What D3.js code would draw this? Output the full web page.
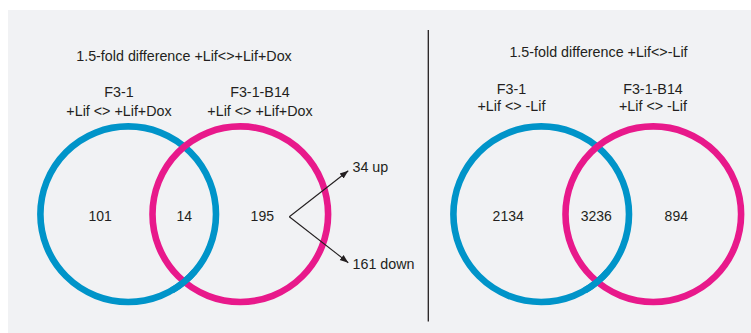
<!DOCTYPE html>
<html>
<head>
<meta charset="utf-8">
<script src="https://cdn.jsdelivr.net/npm/d3@7"></script>
<style>
  html, body { margin: 0; padding: 0; background: #ffffff; }
  svg { display: block; }
  text { font-family: "Liberation Sans", Arial, sans-serif; fill: #231f20; }
</style>
</head>
<body>
<svg id="chart" width="751" height="333"></svg>
<script>
// Comparison panels
const panelTitles = ["1.5-fold difference +Lif<>+Lif+Dox", "1.5-fold difference +Lif<>-Lif"];
const setNames = ["F3-1", "F3-1-B14"];
const setConditions = [
  ["+Lif <> +Lif+Dox", "+Lif <> +Lif+Dox"],
  ["+Lif <> -Lif", "+Lif <> -Lif"]
];
// Region counts per panel: only first set, shared, only second set
const onlyFirst = [101, 2134];
const shared = [14, 3236];
const onlySecond = [195, 894];
// Direction split of the 195 genes unique to F3-1-B14 (+Lif <> +Lif+Dox)
const splitLabels = ["up", "down"];
const splitCounts = [34, 161];
const setColors = ["#0094c9", "#e8198b"];

const labelSize = 14.3, countSize = 14;
const svg = d3.select("#chart");

// background panel
svg.append("rect").attr("x", 8).attr("y", 10).attr("width", 743).attr("height", 323)
  .attr("fill", "#f1f2f4");

// divider
svg.append("line").attr("x1", 428.3).attr("x2", 428.3).attr("y1", 30).attr("y2", 321.5)
  .attr("stroke", "#231f20").attr("stroke-width", 1.3);

// panel offset scale: panel index -> horizontal origin
const panelX = d3.scaleLinear().domain([0, 1]).range([0, 413]);
// position within a panel: 0 = first circle centre, 1 = second circle centre
const setX = d3.scaleLinear().domain([0, 1]).range([128.2, 240.3]);
const cy = 214.2, r = 87.8;

svg.append("defs").append("marker")
  .attr("id", "arrow").attr("viewBox", "0 0 10 10")
  .attr("refX", 10).attr("refY", 5)
  .attr("markerWidth", 8.5).attr("markerHeight", 8.5)
  .attr("markerUnits", "userSpaceOnUse")
  .attr("orient", "auto")
  .append("path").attr("d", "M0,1.2 L10,5 L0,8.8 Z").attr("fill", "#231f20");

panelTitles.forEach((title, p) => {
  const g = svg.append("g").attr("transform", `translate(${panelX(p)},0)`);
  const titleY = p === 0 ? 55.5 : 52;
  const nameY = p === 0 ? 92 : 88.5;
  const condY = p === 0 ? 110.5 : 106;

  g.append("text").attr("x", p === 0 ? 184 : 185.5).attr("y", titleY)
    .attr("text-anchor", "middle").attr("dominant-baseline", "central")
    .attr("font-size", labelSize).text(title);

  const labelX = p === 0 ? [119, 260] : [98.5, 240];
  setNames.forEach((name, i) => {
    g.append("text").attr("x", labelX[i]).attr("y", nameY)
      .attr("text-anchor", "middle").attr("dominant-baseline", "central")
      .attr("font-size", labelSize).text(name);
    g.append("text").attr("x", labelX[i]).attr("y", condY)
      .attr("text-anchor", "middle").attr("dominant-baseline", "central")
      .attr("font-size", labelSize).text(setConditions[p][i]);
  });

  // circles
  [0, 1].forEach(i => {
    g.append("circle").attr("cx", setX(i)).attr("cy", cy).attr("r", r)
      .attr("fill", "none").attr("stroke", setColors[i]).attr("stroke-width", 6.6);
  });
  // the first ring passes over the second at the lower crossing
  const dx = setX(1) - setX(0);
  const h = Math.sqrt(r * r - (dx / 2) * (dx / 2));
  const ang = Math.atan2(h, dx / 2);
  const arc = d3.arc().innerRadius(r - 3.3).outerRadius(r + 3.3)
    .startAngle(Math.PI / 2 + ang - 0.17).endAngle(Math.PI / 2 + ang + 0.17);
  g.append("path").attr("transform", `translate(${setX(0)},${cy})`)
    .attr("d", arc()).attr("fill", setColors[0]);

  // counts
  const counts = [onlyFirst[p], shared[p], onlySecond[p]];
  const offs = p === 0 ? [-28, 0, 22] : [-33, -1, 23];
  const cxs = [setX(0) + offs[0], (setX(0) + setX(1)) / 2 + offs[1], setX(1) + offs[2]];
  counts.forEach((c, k) => {
    g.append("text").attr("x", cxs[k]).attr("y", cy + 1.5)
      .attr("text-anchor", "middle").attr("dominant-baseline", "central")
      .attr("font-size", countSize).text(c);
  });
});

// up/down split arrows from the unique F3-1-B14 count
const vx = 289.3, vy = 216.7;
const splitY = d3.scaleOrdinal().domain(splitLabels).range([170.7, 262.7]);
splitLabels.forEach((lab, i) => {
  svg.append("line").attr("x1", vx).attr("y1", vy).attr("x2", 348.3).attr("y2", splitY(lab))
    .attr("stroke", "#231f20").attr("stroke-width", 1.1).attr("marker-end", "url(#arrow)");
  svg.append("text").attr("x", 352.5).attr("y", splitY(lab) + (i === 0 ? -3.5 : 1.5))
    .attr("dominant-baseline", "central").attr("font-size", labelSize)
    .text(`${splitCounts[i]} ${lab}`);
});
</script>
</body>
</html>
